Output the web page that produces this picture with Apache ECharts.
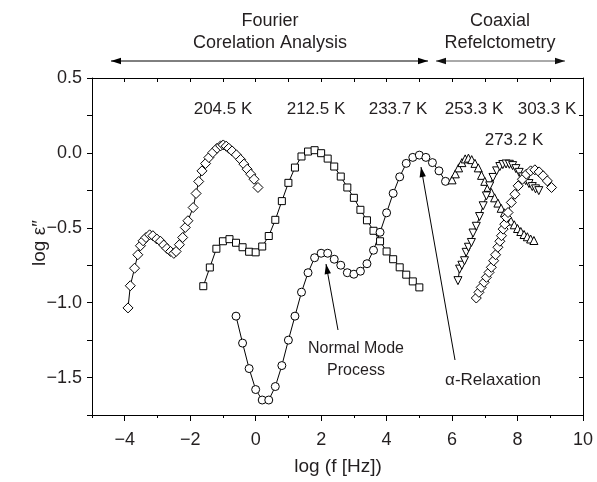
<!DOCTYPE html>
<html>
<head>
<meta charset="utf-8">
<script src="https://cdn.jsdelivr.net/npm/echarts@6/dist/echarts.min.js"></script>
<style>
html,body{margin:0;padding:0;background:#fff;}
#c{width:597px;height:482px;}
</style>
</head>
<body>
<div id="c"></div>
<script>
// ---- data (log f [Hz], log eps'') ----
const x204 = [-3.90,-3.83,-3.70,-3.60,-3.52,-3.44,-3.35,-3.24,-3.14,-3.02,-2.91,-2.81,-2.71,-2.60,-2.50,-2.43,-2.33,-2.23,-2.15,-2.07,-1.91,-1.82,-1.74,-1.64,-1.53,-1.43,-1.31,-1.18,-1.07,-0.99,-0.90,-0.82,-0.72,-0.59,-0.46,-0.36,-0.26,-0.15,-0.05,0.07];
const y204 = [-1.035,-0.887,-0.77,-0.68,-0.62,-0.587,-0.565,-0.547,-0.553,-0.575,-0.59,-0.615,-0.638,-0.658,-0.671,-0.658,-0.613,-0.565,-0.498,-0.453,-0.365,-0.271,-0.191,-0.12,-0.071,-0.031,0.002,0.031,0.047,0.053,0.045,0.031,0.013,-0.013,-0.044,-0.075,-0.109,-0.142,-0.176,-0.231];

const x212 = [-1.6,-1.4,-1.2,-1.0,-0.8,-0.6,-0.4,-0.2,0.0,0.2,0.4,0.6,0.8,1.0,1.2,1.4,1.6,1.8,2.0,2.2,2.4,2.6,2.8,3.0,3.2,3.4,3.6,3.8,4.0,4.2,4.4,4.6,4.8,5.0];
const y212 = [-0.89,-0.765,-0.64,-0.59,-0.576,-0.60,-0.63,-0.66,-0.664,-0.625,-0.555,-0.447,-0.322,-0.20,-0.098,-0.024,0.009,0.018,-0.002,-0.038,-0.091,-0.158,-0.231,-0.30,-0.38,-0.45,-0.52,-0.59,-0.658,-0.71,-0.764,-0.813,-0.858,-0.898];

const x233 = [-0.6,-0.4,-0.2,0.0,0.2,0.4,0.6,0.8,1.0,1.2,1.4,1.6,1.8,2.0,2.2,2.4,2.6,2.8,3.0,3.2,3.4,3.6,3.8,4.0,4.2,4.4,4.6,4.8,5.0,5.2,5.4,5.6,5.8];
const y233 = [-1.09,-1.27,-1.44,-1.58,-1.65,-1.65,-1.56,-1.42,-1.25,-1.09,-0.93,-0.80,-0.70,-0.67,-0.67,-0.71,-0.75,-0.80,-0.81,-0.79,-0.74,-0.65,-0.53,-0.40,-0.27,-0.16,-0.07,-0.03,-0.015,-0.03,-0.065,-0.12,-0.19];

const x253 = [6.0,6.1,6.2,6.3,6.4,6.5,6.6,6.7,6.8,6.9,7.0,7.1,7.2,7.3,7.4,7.5,7.6,7.7,7.8,7.9,8.0,8.1,8.2,8.3,8.4,8.5];
const y253 = [-0.18,-0.14,-0.10,-0.065,-0.04,-0.035,-0.045,-0.07,-0.10,-0.15,-0.19,-0.23,-0.265,-0.30,-0.335,-0.37,-0.40,-0.43,-0.455,-0.48,-0.505,-0.525,-0.545,-0.56,-0.575,-0.585];

const x273 = [6.18,6.23,6.30,6.38,6.43,6.50,6.59,6.64,6.74,6.84,6.95,7.05,7.15,7.25,7.36,7.46,7.55,7.65,7.75,7.85,7.95,8.05,8.15,8.25,8.35,8.45,8.55,8.65];
const y273 = [-0.853,-0.776,-0.75,-0.72,-0.664,-0.63,-0.598,-0.535,-0.49,-0.425,-0.353,-0.287,-0.22,-0.164,-0.12,-0.091,-0.078,-0.074,-0.076,-0.085,-0.105,-0.13,-0.16,-0.185,-0.205,-0.225,-0.24,-0.252];

const x303 = [6.74,6.82,6.89,6.98,7.05,7.13,7.20,7.27,7.33,7.40,7.46,7.51,7.56,7.61,7.66,7.71,7.81,7.92,8.02,8.15,8.27,8.40,8.53,8.66,8.78,8.91,9.04];
const y303 = [-0.969,-0.931,-0.898,-0.864,-0.831,-0.798,-0.764,-0.72,-0.68,-0.63,-0.59,-0.553,-0.509,-0.476,-0.431,-0.398,-0.331,-0.276,-0.22,-0.176,-0.142,-0.12,-0.113,-0.127,-0.153,-0.187,-0.231];

const xMajorTicks = [-4,-2,0,2,4,6,8,10];
const xMinorTicks = [-5,-3,-1,1,3,5,7,9];
const yLabelTicks = [-1.5,-1.0,-0.5,0.0,0.5];
const tempLabels = ["204.5 K","212.5 K","233.7 K","253.3 K","303.3 K","273.2 K"];

// ---- chart ----
const FONT = "'Liberation Sans', Arial, Helvetica, sans-serif";
const TXT = '#231f20';
const chart = echarts.init(document.getElementById('c'), null, {renderer:'canvas'});
const zip = (xs, ys) => xs.map((x,i)=>[x, ys[i]]);
const fmtMinus = s => String(s).replace('-', '\u2212');

function mkSeries(name, xs, ys, symbol, size, rotate){
  return {
    name, type:'line', data: zip(xs, ys), symbol, symbolSize:size, symbolRotate: rotate||0,
    showAllSymbol:true, clip:false,
    lineStyle:{color:'#000', width:1},
    itemStyle:{color:'#fff', borderColor:'#000', borderWidth:1},
    emphasis:{disabled:true}, silent:true, animation:false
  };
}

function arrow(x1,y1,x2,y2,color,lineColor,heads){
  const els = [{type:'line', shape:{x1,y1,x2,y2}, style:{stroke:lineColor||color, lineWidth:1}, silent:true}];
  const head = (tx,ty,fx,fy)=>{
    const dx=tx-fx, dy=ty-fy, L=Math.hypot(dx,dy), ux=dx/L, uy=dy/L;
    const len=10, hw=3.2;
    const bx=tx-ux*len, by=ty-uy*len;
    return {type:'polygon', shape:{points:[[tx,ty],[bx-uy*hw,by+ux*hw],[bx+uy*hw,by-ux*hw]]}, style:{fill:color}, silent:true};
  };
  if (heads.includes('end')) els.push(head(x2,y2,x1,y1));
  if (heads.includes('start')) els.push(head(x1,y1,x2,y2));
  return els;
}
function txt(x,y,t,size,align,rot){
  return {type:'text', x, y, rotation: rot||0, silent:true,
    style:{text:t, fill:TXT, font:`${size||16}px ${FONT}`, align:align||'center', verticalAlign:'middle'}};
}

const graphic = [
  txt(270,21,'Fourier',18), txt(270,43,'Corelation Analysis',18),
  txt(500,21,'Coaxial',18), txt(500,43,'Refelctometry',18),
  ...arrow(111,61,428,61,'#000','#000',['start','end']),
  ...arrow(436,61,565,61,'#111','#555',['start','end']),
  txt(223,109,tempLabels[0],17), txt(316,109,tempLabels[1],17), txt(398,109,tempLabels[2],17),
  txt(474,109,tempLabels[3],17), txt(547,109,tempLabels[4],17), txt(514,140,tempLabels[5],17),
  txt(356,349,'Normal Mode',16), txt(356,371,'Process',16),
  ...arrow(338,330,326,264,'#000','#000',['end']),
  txt(493,380,'\u03b1-Relaxation',17),
  ...arrow(455,360,421,167,'#000','#000',['end']),
  txt(40,243,'log \u03b5\u2033',19,'center',Math.PI/2),
  txt(338,467,'log (f [Hz])',19,'center')
];

const axisLineStyle = {show:true, onZero:false, lineStyle:{color:'#000', width:1}};
const option = {
  animation:false,
  backgroundColor:'#fff',
  grid:{left:92, right:14, top:78, bottom:67, containLabel:false},
  xAxis:[
    {type:'value', position:'bottom', min:-5, max:10, interval:1,
     axisLine:axisLineStyle, splitLine:{show:false},
     axisTick:{show:true, inside:false, length:6, customValues:xMajorTicks, lineStyle:{color:'#000'}},
     axisLabel:{show:true, customValues:xMajorTicks, margin:16, fontSize:18, fontFamily:FONT, color:TXT,
       formatter:v=> (Math.round(v)%2===0 ? fmtMinus(v) : '')}},
    {type:'value', position:'bottom', min:-5, max:10, interval:1,
     axisLine:{show:false, onZero:false}, splitLine:{show:false},
     axisTick:{show:true, inside:false, length:3, customValues:xMinorTicks, lineStyle:{color:'#000'}},
     axisLabel:{show:false}},
    {type:'value', position:'top', min:-5, max:10, interval:1,
     axisLine:axisLineStyle, splitLine:{show:false},
     axisTick:{show:true, inside:true, length:4, lineStyle:{color:'#000'}},
     axisLabel:{show:false}}
  ],
  yAxis:[
    {type:'value', position:'left', min:-1.75, max:0.5, interval:0.25,
     axisLine:axisLineStyle, splitLine:{show:false},
     axisTick:{show:true, inside:false, length:5, lineStyle:{color:'#000'}},
     axisLabel:{show:true, customValues:yLabelTicks, margin:10, fontSize:18, fontFamily:FONT, color:TXT,
       formatter:v=> (Math.abs(v*2-Math.round(v*2))<1e-6 ? fmtMinus(v.toFixed(1)) : '')}},
    {type:'value', position:'right', min:-1.75, max:0.5, interval:0.25,
     axisLine:axisLineStyle, splitLine:{show:false},
     axisTick:{show:true, inside:true, length:4, lineStyle:{color:'#000'}},
     axisLabel:{show:false}}
  ],
  series:[
    mkSeries('204.5 K', x204, y204, 'diamond', 10),
    mkSeries('212.5 K', x212, y212, 'rect', 7),
    mkSeries('233.7 K', x233, y233, 'circle', 8),
    mkSeries('253.3 K', x253, y253, 'triangle', 8),
    mkSeries('273.2 K', x273, y273, 'triangle', 8, 180),
    mkSeries('303.3 K', x303, y303, 'diamond', 10)
  ],
  graphic: graphic
};
chart.setOption(option);
</script>
</body>
</html>
